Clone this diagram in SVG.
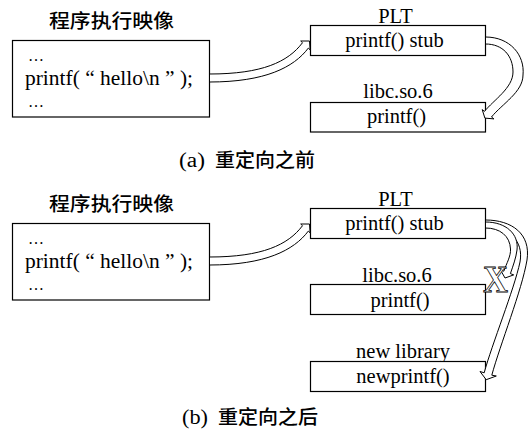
<svg xmlns="http://www.w3.org/2000/svg" width="529" height="430" viewBox="0 0 529 430">
<style>
.box{fill:#fff;stroke:#000;stroke-width:1.2}
.t{font-family:"Liberation Serif","Times New Roman",serif;font-size:20.5px;fill:#000}
.c{text-anchor:middle}
.cjk{font-family:"Noto Sans CJK SC","Noto Sans",sans-serif;font-size:19px;font-weight:500;fill:#000}
.cap{font-family:"Liberation Serif","Times New Roman",serif;font-size:20px;fill:#000}
.arr{fill:#fff;stroke:#000;stroke-width:1;stroke-linejoin:miter}
.dots{font-family:"Liberation Serif",serif;font-size:16px;fill:#000}
.x{font-family:"Liberation Serif","Times New Roman",serif;font-size:38px;font-weight:bold;fill:#fff;stroke:#000;stroke-width:0.8}
</style>
<rect width="529" height="430" fill="#fff"/>

<!-- top panel -->
<g id="top-image">
<text class="cjk" x="49" y="28" textLength="125" lengthAdjust="spacingAndGlyphs">程序执行映像</text>
<rect class="box" x="12.5" y="40.5" width="197" height="76.5"/>
<text class="dots" x="28" y="61">…</text>
<text class="t" x="25" y="85" textLength="168" lengthAdjust="spacingAndGlyphs">printf( “ hello\n ” );</text>
<text class="dots" x="28" y="107">…</text>
</g>
<g id="top-plt">
<text class="t c" x="395.5" y="23">PLT</text>
<rect class="box" x="310.5" y="25.5" width="175" height="30"/>
<text class="t c" x="394.5" y="47">printf() stub</text>
</g>
<g id="top-libc">
<text class="t c" x="398" y="98">libc.so.6</text>
<rect class="box" x="310.5" y="102.5" width="175" height="29.5"/>
<text class="t c" x="396.5" y="123">printf()</text>
</g>
<g id="caption-a">
<text class="cap" x="179" y="167" textLength="26" lengthAdjust="spacingAndGlyphs">(a)</text>
<text class="cjk" x="215" y="167" textLength="100" lengthAdjust="spacingAndGlyphs">重定向之前</text>
</g>

<!-- bottom panel -->
<g id="bottom-image">
<text class="cjk" x="49" y="211" textLength="125" lengthAdjust="spacingAndGlyphs">程序执行映像</text>
<rect class="box" x="12.5" y="223.5" width="197" height="76.5"/>
<text class="dots" x="28" y="244">…</text>
<text class="t" x="25" y="268" textLength="168" lengthAdjust="spacingAndGlyphs">printf( “ hello\n ” );</text>
<text class="dots" x="28" y="290">…</text>
</g>
<g id="bottom-plt">
<text class="t c" x="395.5" y="206">PLT</text>
<rect class="box" x="310.5" y="208.5" width="175" height="30"/>
<text class="t c" x="394.5" y="230">printf() stub</text>
</g>
<g id="bottom-libc">
<text class="t c" x="397" y="282">libc.so.6</text>
<rect class="box" x="310.5" y="284.5" width="175" height="30"/>
<text class="t c" x="400" y="307">printf()</text>
</g>
<g id="bottom-newlib">
<text class="t c" x="403" y="358">new library</text>
<rect class="box" x="310.5" y="361.5" width="175" height="30"/>
<text class="t c" x="403" y="383">newprintf()</text>
</g>
<g id="caption-b">
<text class="cap" x="182" y="424" textLength="26" lengthAdjust="spacingAndGlyphs">(b)</text>
<text class="cjk" x="218" y="424" textLength="100" lengthAdjust="spacingAndGlyphs">重定向之后</text>
</g>

<g id="connectors">
<!-- top: image -> PLT -->
<path class="arr" d="M209.5,74 C262,74 288,62 302.5,42.7 L300.7,41 L309.5,41 L310.1,49.8 L308.3,48.1 C293.8,67.4 265,82 209.5,82 Z"/>
<!-- top: PLT -> libc -->
<path class="arr" d="M485.5,37 C510,37 525,55 523,75 C523,92 502,104 491.5,117 L493.9,118.9 L484.9,118.1 L482.2,109.6 L484.5,111.4 C493.5,100.1 513,88 513,72 C513,56 503,44 485.5,44 Z"/>
<!-- bottom: image -> PLT -->
<path class="arr" transform="translate(0,183)" d="M209.5,74 C262,74 288,62 302.5,42.7 L300.7,41 L309.5,41 L310.1,49.8 L308.3,48.1 C293.8,67.4 265,82 209.5,82 Z"/>
<!-- bottom: PLT -> new library -->
<path class="arr" d="M485.5,220 C512,220 531,234 527,260 C522,290 500,345 491.8,375.2 L496.3,376 L486.2,379.7 L480,371.5 L484.2,372.8 C492,344 514,290 520,262 C524,240 508,227 485.5,227 Z"/>
<!-- bottom: PLT -> libc (crossed) -->
<path class="arr" d="M485.5,222 C506,222 519,234 517,250 C516,258 513,266 510.4,273.6 L513.7,274.9 L505,278 L500.5,270 L503.8,271.2 C506.5,263.5 511,256 510.5,249 C510,236 500,228 485.5,228 Z"/>
<text class="x" x="483" y="292" textLength="25" lengthAdjust="spacingAndGlyphs">X</text>
</g>
</svg>
